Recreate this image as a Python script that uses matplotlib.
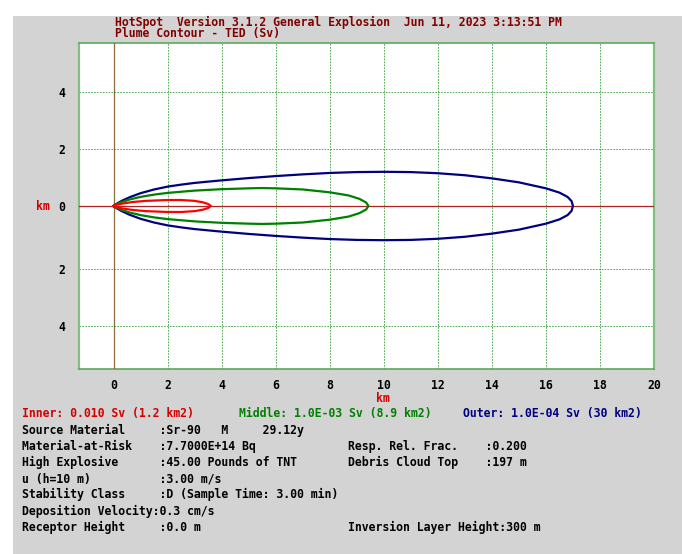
import numpy as np
import matplotlib
matplotlib.use('Agg')
import matplotlib.pyplot as plt
from matplotlib.patches import Rectangle

# contour half-widths (km), upper half of each plume
outer_x = [0, 0.1, 0.3, 0.6, 1, 1.5, 2, 2.5, 3, 4, 5, 6, 7, 8, 9, 10, 11, 12, 13, 14, 15, 16, 16.5, 16.8, 16.95, 17.0]
outer_y = [0, 0.07, 0.18, 0.31, 0.45, 0.58, 0.68, 0.75, 0.81, 0.9, 0.98, 1.05, 1.11, 1.16, 1.19, 1.2, 1.19, 1.15, 1.08, 0.97, 0.83, 0.62, 0.47, 0.32, 0.17, 0]
middle_x = [0, 0.1, 0.3, 0.6, 1, 1.5, 2, 3, 4, 5, 5.5, 6, 7, 8, 8.7, 9.1, 9.35, 9.43]
middle_y = [0, 0.06, 0.14, 0.23, 0.32, 0.4, 0.46, 0.54, 0.59, 0.62, 0.63, 0.62, 0.58, 0.48, 0.37, 0.25, 0.12, 0]
inner_x = [0, 0.1, 0.3, 0.7, 1.2, 2, 2.5, 3, 3.3, 3.5, 3.6]
inner_y = [0, 0.04, 0.08, 0.14, 0.18, 0.21, 0.21, 0.18, 0.13, 0.07, 0]

xticks = [0, 2, 4, 6, 8, 10, 12, 14, 16, 18, 20]
yticks = [4, 2, 0, -2.2, -4.2]
ytick_labels = ['4', '2', '0', '2', '4']

title1 = 'HotSpot  Version 3.1.2 General Explosion  Jun 11, 2023 3:13:51 PM'
title2 = 'Plume Contour - TED (Sv)'
legend_items = [('Inner: 0.010 Sv (1.2 km2)', '#d40000', 0),
                ('Middle: 1.0E-03 Sv (8.9 km2)', '#008000', 31),
                ('Outer: 1.0E-04 Sv (30 km2)', '#000080', 63)]
left_rows = ['Source Material     :Sr-90   M     29.12y',
             'Material-at-Risk    :7.7000E+14 Bq',
             'High Explosive      :45.00 Pounds of TNT',
             'u (h=10 m)          :3.00 m/s',
             'Stability Class     :D (Sample Time: 3.00 min)',
             'Deposition Velocity:0.3 cm/s',
             'Receptor Height     :0.0 m']
right_rows = {1: 'Resp. Rel. Frac.    :0.200',
              2: 'Debris Cloud Top    :197 m',
              6: 'Inversion Layer Height:300 m'}

W, H = 682, 554
fig = plt.figure(figsize=(W / 100, H / 100), dpi=100)
fig.patch.set_facecolor('white')
fig.patches.append(Rectangle((13 / W, 0), 1 - 13 / W, 1 - 16 / H, transform=fig.transFigure,
                             facecolor='#d3d3d3', edgecolor='none', zorder=-10))

mono = 'DejaVu Sans Mono'
fs = 8.3
cw = 7.0  # px per char

def px(x, y):
    return x / W, 1 - y / H

ax = fig.add_axes([79 / W, 1 - 369 / H, (654 - 79) / W, (369 - 43) / H])
ax.set_facecolor('white')
ax.set_xlim(-1.28, 20)
ax.set_ylim(-5.72, 5.72)

for xs, ys, col in [(outer_x, outer_y, '#000080'), (middle_x, middle_y, '#008000'),
                    (inner_x, inner_y, '#ff0000')]:
    xx = list(xs) + list(xs[::-1])
    yy = list(ys) + [-v for v in ys[::-1]]
    ax.plot(xx, yy, color=col, lw=1.6, solid_joinstyle='round', zorder=4)

ax.axhline(0, color='#b22222', lw=0.9, zorder=3)
ax.axvline(0, color='#8b6b3b', lw=0.9, zorder=3)

ax.set_xticks(xticks)
ax.set_yticks(yticks)
ax.set_yticklabels(ytick_labels)
ax.grid(True, color='#3c9c3c', linestyle=(0, (2, 1.5)), lw=0.6, zorder=1)
ax.tick_params(length=0, labelsize=fs, labelcolor='black')
ax.tick_params(axis='x', pad=7)
ax.tick_params(axis='y', pad=10)
for lab in ax.get_xticklabels() + ax.get_yticklabels():
    lab.set_fontfamily(mono)
    lab.set_fontweight('bold')
for side in ['left', 'right']:
    ax.spines[side].set_color('#80c080')
    ax.spines[side].set_linewidth(1.6)
for side in ['top', 'bottom']:
    ax.spines[side].set_color('#5aaa5a')
    ax.spines[side].set_linewidth(1.2)

txt = dict(fontfamily=mono, fontweight='bold', fontsize=fs, va='center', ha='left')
fig.text(*px(115, 22), title1, color='#800000', **txt)
fig.text(*px(115, 34), title2, color='#800000', **txt)
fig.text(*px(43, 206), 'km', color='#d40000', fontfamily=mono, fontweight='bold',
         fontsize=fs, va='center', ha='center')
fig.text(*px(383, 398), 'km', color='#d40000', fontfamily=mono, fontweight='bold',
         fontsize=fs, va='center', ha='center')

for s, col, c in legend_items:
    fig.text(*px(22 + c * cw, 414), s, color=col, **txt)

for i, s in enumerate(left_rows):
    fig.text(*px(22, 430 + i * 16.2), s, color='black', **txt)
for i, s in right_rows.items():
    fig.text(*px(348, 430 + i * 16.2), s, color='black', **txt)

fig.savefig('out.png', dpi=100)
